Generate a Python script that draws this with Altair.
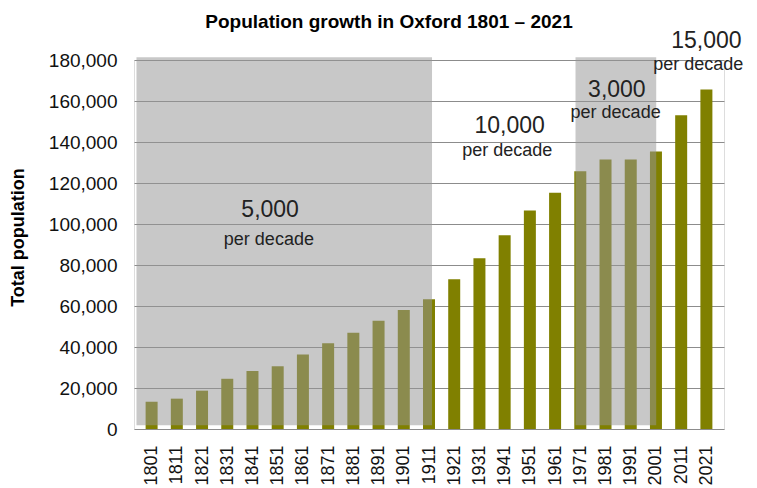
import altair as alt
import pandas as pd

years = [1801, 1811, 1821, 1831, 1841, 1851, 1861, 1871, 1881, 1891, 1901, 1911,
         1921, 1931, 1941, 1951, 1961, 1971, 1981, 1991, 2001, 2011, 2021]
population = [13300, 14800, 18700, 24500, 28300, 30600, 36400, 41800, 47000, 52800,
              58000, 63300, 73100, 83300, 94500, 106600, 115300, 125700, 131500,
              131500, 135400, 153000, 165600]

band_start = [1795, 1969.1]
band_end = [1912.2, 2001.1]
band_top = [181300, 181300]
band_bottom = [1800, 1800]

rate_labels = ["5,000", "10,000", "3,000", "15,000"]
rate_x = [1848, 1943, 1985.5, 2021]
rate_y = [103500, 144300, 162100, 185700]
sub_labels = ["per decade", "per decade", "per decade", "per decade"]
sub_x = [1847.5, 1942, 1985, 2017.8]
sub_y = [90000, 133400, 151700, 175000]

FONT = "Liberation Sans"

bars_df = pd.DataFrame({"year": years, "population": population})
bands_df = pd.DataFrame({"x": band_start, "x2": band_end, "y": band_top, "y2": band_bottom})
rate_df = pd.DataFrame({"label": rate_labels, "x": rate_x, "y": rate_y})
sub_df = pd.DataFrame({"label": sub_labels, "x": sub_x, "y": sub_y})

xscale = alt.Scale(domain=[1796, 2026], nice=False, zero=False)
yscale = alt.Scale(domain=[0, 180000], nice=False)

xaxis = alt.Axis(values=years, format="d", labelAngle=-90, labelPadding=16,
                 ticks=False, domain=False, grid=False, title=None,
                 labelFont=FONT, labelFontSize=18, labelColor="#111",
                 labelOverlap=False, labelFlush=False)
yaxis = alt.Axis(values=list(range(0, 180001, 20000)), format=",d",
                 ticks=False, domain=False, grid=True, gridColor="#8c8c8c",
                 gridWidth=1, labelPadding=17, labelFont=FONT,
                 labelFontSize=19, labelColor="#111",
                 title="Total population", titleFont=FONT, titleFontSize=18,
                 titleFontWeight="bold", titleColor="#000", titleAngle=-90,
                 titleX=-116, titleY=177, titleBaseline="middle",
                 titleAlign="center")

bars = alt.Chart(bars_df).mark_bar(size=12, color="#808000").encode(
    x=alt.X("year:Q", scale=xscale, axis=xaxis),
    y=alt.Y("population:Q", scale=yscale, axis=yaxis),
)

bands = alt.Chart(bands_df).mark_rect(color="#959595", opacity=0.52, clip=False).encode(
    x=alt.X("x:Q", scale=xscale, axis=xaxis), x2="x2:Q",
    y=alt.Y("y:Q", scale=yscale, axis=yaxis), y2="y2:Q",
)

rates = alt.Chart(rate_df).mark_text(font=FONT, fontSize=23, color="#222",
                                     baseline="alphabetic", align="center").encode(
    x=alt.X("x:Q", scale=xscale, axis=xaxis), y=alt.Y("y:Q", scale=yscale, axis=yaxis),
    text="label:N")

subs = alt.Chart(sub_df).mark_text(font=FONT, fontSize=18, color="#222",
                                   baseline="alphabetic", align="center").encode(
    x=alt.X("x:Q", scale=xscale, axis=xaxis), y=alt.Y("y:Q", scale=yscale, axis=yaxis),
    text="label:N")

chart = alt.layer(bars, bands, rates, subs).properties(
    width=590, height=369,
    title=alt.TitleParams("Population growth in Oxford 1801 \u2013 2021", font=FONT,
                          fontSize=19, fontWeight="bold", color="#000",
                          anchor="middle", dx=-40, dy=24, offset=7,
                          baseline="alphabetic"),
    autosize=alt.AutoSizeParams(type="none"),
    padding={"left": 126, "top": 52, "right": 25, "bottom": 59},
).configure_view(stroke=None).configure(background="white")

chart.save("out.html", embed_options={"renderer": "svg", "actions": False})
